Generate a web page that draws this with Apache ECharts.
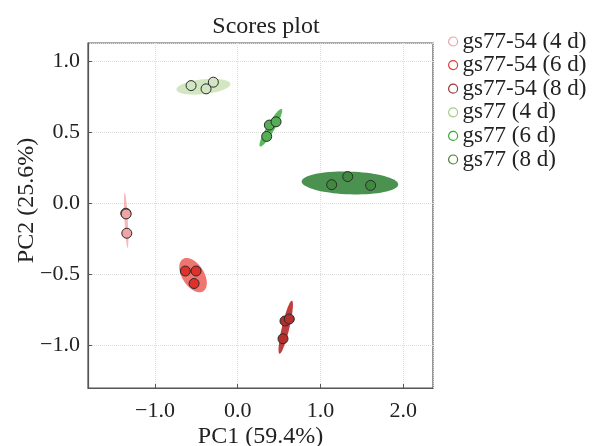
<!DOCTYPE html>
<html>
<head>
<meta charset="utf-8">
<script src="https://cdn.jsdelivr.net/npm/echarts@6/dist/echarts.min.js"></script>
<style>html,body{margin:0;padding:0;background:#fff}#c{width:600px;height:446px}</style>
</head>
<body>
<div id="c"></div>
<script>
// ---- data ----
const groupNames = ['gs77-54 (4 d)', 'gs77-54 (6 d)', 'gs77-54 (8 d)', 'gs77 (4 d)', 'gs77 (6 d)', 'gs77 (8 d)'];
// sample scores [PC1, PC2]
const scores_54_4d = [[-1.353, -0.069], [-1.349, -0.074], [-1.341, -0.210]];
const scores_54_6d = [[-0.633, -0.476], [-0.504, -0.476], [-0.528, -0.564]];
const scores_54_8d = [[0.571, -0.828], [0.623, -0.814], [0.547, -0.953]];
const scores_77_4d = [[-0.564, 0.830], [-0.383, 0.807], [-0.295, 0.854]];
const scores_77_6d = [[0.382, 0.552], [0.463, 0.575], [0.350, 0.472]];
const scores_77_8d = [[1.135, 0.132], [1.329, 0.189], [1.606, 0.127]];
// confidence ellipses in data units: [centerPC1, centerPC2, axisA_PC1, axisA_PC2, axisB_PC1, axisB_PC2]
const ellipse_54_4d = [-1.349, -0.119, 0.018, -0.195, 0.020, 0.001];
const ellipse_54_6d = [-0.540, -0.505, 0.124, -0.113, -0.111, -0.042];
const ellipse_54_8d = [0.580, -0.872, 0.075, 0.187, 0.044, -0.006];
const ellipse_77_4d = [-0.415, 0.822, 0.326, 0.020, 0.009, -0.052];
const ellipse_77_6d = [0.400, 0.533, 0.131, 0.132, 0.042, -0.014];
const ellipse_77_8d = [1.356, 0.144, 0.583, -0.011, -0.004, -0.080];
const xRange = [-1.81, 2.36];
const yRange = [-1.30, 1.13];

const allScores = [scores_54_4d, scores_54_6d, scores_54_8d, scores_77_4d, scores_77_6d, scores_77_8d];
const allEllipses = [ellipse_54_4d, ellipse_54_6d, ellipse_54_8d, ellipse_77_4d, ellipse_77_6d, ellipse_77_8d];

// ---- styles ----
const pointColors = ['#f2a3a3', '#e0302c', '#b3302e', '#d3e6c4', '#55ae55', '#3f8a3f'];
const ellipseColors = ['rgba(240,130,130,0.55)', '#ef7670', '#bf3d3d', '#d2e6c2', '#5cb85c', '#4b9150'];
const legendColors = ['#e6a2aa', '#e03c3c', '#9a3a3a', '#a6cc86', '#3aa83a', '#4a7a3a'];
const serif = 'Liberation Serif';

const series = [];
allEllipses.forEach((e, i) => {
  series.push({
    type: 'custom',
    name: 'ellipse ' + groupNames[i],
    z: 1,
    silent: true,
    data: [e],
    encode: { x: 0, y: 1 },
    renderItem: function (params, api) {
      const cx = api.value(0), cy = api.value(1);
      const ax = api.value(2), ay = api.value(3), bx = api.value(4), by = api.value(5);
      const pts = [];
      const n = 72;
      for (let k = 0; k < n; k++) {
        const t = 2 * Math.PI * k / n;
        pts.push(api.coord([cx + ax * Math.cos(t) + bx * Math.sin(t), cy + ay * Math.cos(t) + by * Math.sin(t)]));
      }
      return { type: 'polygon', shape: { points: pts }, style: { fill: ellipseColors[i] } };
    }
  });
});
allScores.forEach((s, i) => {
  series.push({
    type: 'scatter',
    name: groupNames[i],
    z: 3,
    data: s,
    symbol: 'circle',
    symbolSize: 10,
    itemStyle: { color: pointColors[i], borderColor: '#2b2b2b', borderWidth: 1, opacity: 1 },
    emphasis: { disabled: true }
  });
});

const labelFmt = v => (v < 0 ? '\u2212' : '') + Math.abs(v).toFixed(1);

const chart = echarts.init(document.getElementById('c'));
chart.setOption({
  animation: false,
  backgroundColor: '#fff',
  title: {
    text: 'Scores plot',
    left: 261, textAlign: 'center', top: 10,
    textStyle: { fontFamily: serif, fontSize: 24, fontWeight: 'normal', color: '#222' }
  },
  legend: {
    orient: 'vertical',
    left: 443, top: 25,
    itemWidth: 9, itemHeight: 9,
    itemGap: 0.6,
    icon: 'circle',
    data: groupNames.map((n, i) => ({
      name: n,
      itemStyle: { color: '#fff', borderColor: legendColors[i], borderWidth: 1.2 }
    })),
    textStyle: { fontFamily: serif, fontSize: 23, color: '#222', lineHeight: 22.5 }
  },
  grid: {
    left: 88, right: 167, top: 43, bottom: 58,
    outerBoundsMode: 'none', containLabel: false,
    show: true, borderColor: '#555', borderWidth: 1.2
  },
  xAxis: {
    type: 'value', min: xRange[0], max: xRange[1], splitNumber: 4,
    name: 'PC1 (59.4%)', nameLocation: 'middle', nameGap: 37, nameMoveOverlap: false,
    nameTextStyle: { fontFamily: serif, fontSize: 24, color: '#222' },
    axisLine: { show: true, onZero: false, lineStyle: { color: '#555', width: 1.2 } },
    axisTick: { show: true, inside: true, length: 4, lineStyle: { color: '#555' } },
    axisLabel: {
      showMinLabel: false, showMaxLabel: false, margin: 12,
      fontFamily: serif, fontSize: 22, color: '#222',
      formatter: labelFmt
    },
    splitLine: { show: true, lineStyle: { color: '#dcdcdc', type: 'dotted' } }
  },
  yAxis: {
    type: 'value', min: yRange[0], max: yRange[1],
    name: 'PC2 (25.6%)', nameLocation: 'middle', nameGap: 49, nameMoveOverlap: false,
    nameTextStyle: { fontFamily: serif, fontSize: 24, color: '#222', padding: [0, 0, 0, 30] },
    axisLine: { show: true, onZero: false, lineStyle: { color: '#555', width: 1.2 } },
    axisTick: { show: true, inside: true, length: 4, lineStyle: { color: '#555' } },
    axisLabel: {
      showMinLabel: false, showMaxLabel: false, margin: 8,
      fontFamily: serif, fontSize: 22, color: '#222',
      formatter: labelFmt
    },
    splitLine: { show: true, lineStyle: { color: '#dcdcdc', type: 'dotted' } }
  },
  series: series
});
</script>
</body>
</html>
